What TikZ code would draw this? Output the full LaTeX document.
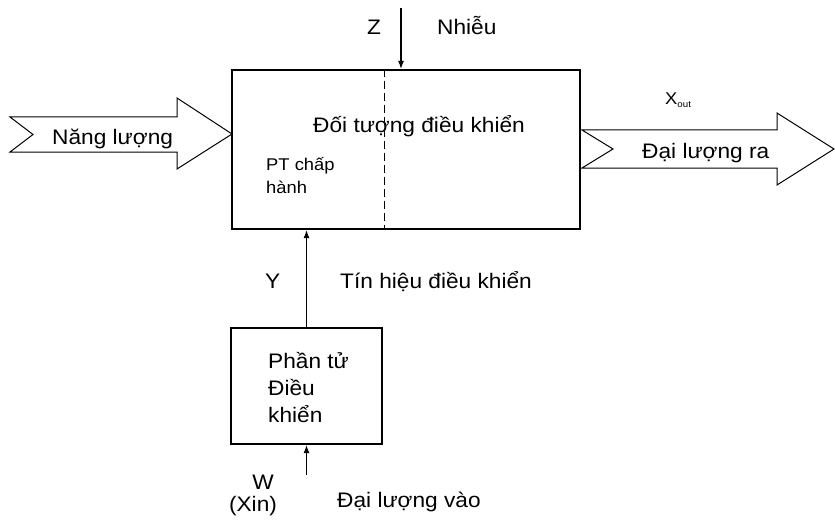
\documentclass[tikz,border=0pt]{standalone}
\usepackage{fontspec}
\setmainfont[FakeStretch=1.08]{Liberation Sans}
\usetikzlibrary{arrows.meta}
\begin{document}
\begin{tikzpicture}[x=1pt,y=-1pt,
  lbl/.style={inner sep=0pt, font=\fontsize{21}{25}\selectfont, anchor=base west},
  lblc/.style={inner sep=0pt, font=\fontsize{21}{25}\selectfont, anchor=base},
  small/.style={inner sep=0pt, font=\fontsize{17}{21}\selectfont, anchor=base west},
  boxx/.style={draw, line width=2.2pt, inner sep=0pt},
  conn/.style={line width=1.2pt, -{Latex[length=8pt,width=6pt]}},
  blockarrow/.style={draw, line width=1pt, line join=miter}]
\useasboundingbox (0,0) rectangle (835,524);
% boxes
\node[boxx, minimum width=348pt, minimum height=159pt] (plant) at (406,149.5) {};
\node[boxx, minimum width=151pt, minimum height=116pt] (ctrl) at (306.5,386) {};
% dashed separator
\coordinate (dashx) at (384,0);
\draw[line width=1pt, dash pattern=on 8pt off 4pt] (plant.north -| dashx) -- (plant.south -| dashx);
% block arrows
\draw[blockarrow] (10,117) -- (177,117) -- (177,98) -- (232,134) -- (177,169) -- (177,152) -- (10,152) -- (33,134.5) -- cycle;
\draw[blockarrow] (582,130) -- (777,130) -- (777,113) -- (834,149) -- (777,185) -- (777,168) -- (582,168) -- (613,149) -- cycle;
% connectors
\coordinate (zs) at (401,8);
\draw[conn] (zs) -- (zs |- plant.north);
\draw[conn] (ctrl.north) -- (ctrl.north |- plant.south);
\coordinate (ws) at (306.5,475);
\draw[conn] (ws) -- (ctrl.south);
% labels
\node[lbl] (zl) at (367,35) {Z};
\node[lbl] (nhieu) at (437,35) {Nhiễu};
\node[lbl] (dt) at (313,132) {Đối tượng điều khiển};
\node[small] (pt1) at (266,171) {PT chấp};
\node[small] (pt2) at (266,193) {hành};
\node[lbl] (nl) at (52,145) {Năng lượng};
\node[small] (xout) at (665,105) {X\raisebox{-3pt}{\fontsize{9}{9}\selectfont out}};
\node[lbl] (dlr) at (642,158) {Đại lượng ra};
\node[lbl] (yl) at (265,288) {Y};
\node[lbl] (thdk) at (340,288) {Tín hiệu điều khiển};
\node[lbl] (p1) at (268,368) {Phần tử};
\node[lbl] (p2) at (268,395) {Điều};
\node[lbl] (p3) at (268,422) {khiển};
\node[lblc] (wl) at (263,489) {W};
\node[lblc] (xin) at (253,511) {(Xin)};
\node[lbl] (dlv) at (337,507) {Đại lượng vào};
\end{tikzpicture}
\end{document}
